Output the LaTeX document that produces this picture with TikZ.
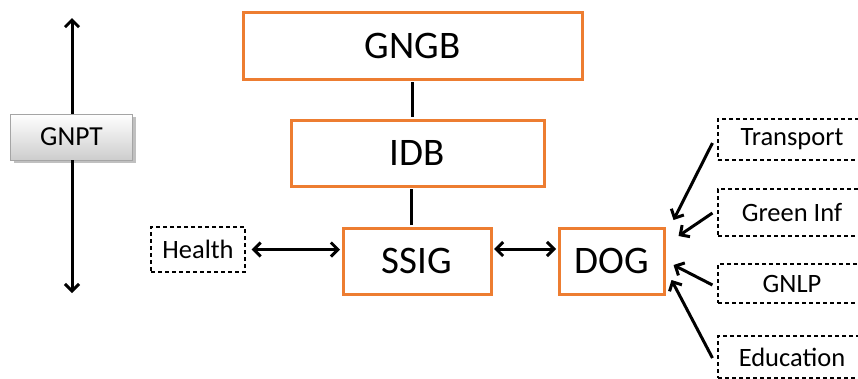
\documentclass[tikz,border=0pt]{standalone}
\usepackage{fontspec}
\setmainfont{Carlito}
\usetikzlibrary{arrows.meta,shadows,calc}
\definecolor{boxorange}{RGB}{237,125,49}
\definecolor{tabedge}{RGB}{165,165,165}
\definecolor{tablow}{RGB}{205,205,205}
\tikzset{
  bigbox/.style={draw=boxorange, line width=3pt, fill=white, font=\fontsize{39}{42}\selectfont, inner sep=0pt},
  tagbox/.style={draw=black, line width=1.1pt, dash pattern=on 4pt off 3pt, fill=white, font=\fontsize{26.5}{29}\selectfont, inner sep=0pt},
  tabbox/.style={draw=tabedge, line width=0.8pt, top color=white, bottom color=tablow,
    drop shadow={shadow xshift=3pt, shadow yshift=-3pt, fill=black!35, opacity=0.7},
    font=\fontsize{27.5}{30}\selectfont, inner sep=0pt},
  link/.style={line width=3pt, black},
  flow/.style={line width=3pt, black, -{Straight Barb[length=7pt,width=14pt]}},
  twoway/.style={line width=3pt, black, {Straight Barb[length=7pt,width=14pt]}-{Straight Barb[length=7pt,width=14pt]}}
}
\begin{document}
\begin{tikzpicture}[x=1pt, y=-1pt]
  \clip (0,0) rectangle (858,378);
  \fill[white] (0,0) rectangle (858,378);

  % vertical axis through GNPT
  \coordinate (up) at (72,18);
  \coordinate (down) at (72,293);
  \node[tabbox, minimum width=122pt, minimum height=46pt] (gnpt) at (71.5,137) {GNPT};
  \draw[flow] (gnpt.north -| up) -- (up);
  \draw[flow] (gnpt.south -| down) -- (down);

  % governance hierarchy
  \node[bigbox, minimum width=339pt, minimum height=67pt] (gngb) at (412.5,45.5) {GNGB};
  \node[bigbox, minimum width=253pt, minimum height=66pt] (idb) at (417.5,153) {IDB};
  \node[bigbox, minimum width=148pt, minimum height=66pt] (ssig) at (417,261) {SSIG};
  \node[bigbox, minimum width=105pt, minimum height=66pt] (dog) at (611.5,261) {DOG};

  \draw[link] ([yshift=-1.5pt]gngb.south) -- ([yshift=1.5pt]gngb.south |- idb.north);
  \draw[link] ([xshift=-6pt, yshift=1.5pt]ssig.north) -- ([xshift=-6pt, yshift=-1.5pt]ssig.north |- idb.south);

  % linked topics
  \node[tagbox, minimum width=94pt, minimum height=45pt] (health) at (198,249.5) {Health};
  \node[tagbox, minimum width=148pt, minimum height=41pt] (transport) at (792,139.5) {Transport};
  \node[tagbox, minimum width=148pt, minimum height=47pt] (green) at (792,212.5) {Green Inf};
  \node[tagbox, minimum width=148pt, minimum height=39pt] (gnlp) at (792,283.5) {GNLP};
  \node[tagbox, minimum width=148pt, minimum height=42pt] (edu) at (792,357) {Education};

  \draw[twoway] ([xshift=6pt]health.east) -- ([xshift=-1.5pt]ssig.west |- health.east);
  \draw[twoway] ([xshift=1.5pt, yshift=12pt]ssig.east) -- ([xshift=-1.5pt, yshift=12pt]dog.west);

  \draw[flow] ([xshift=-5pt, yshift=-3.5pt]transport.west) -- ([xshift=8pt, yshift=41pt]dog.east);
  \draw[flow] ([xshift=-5pt, yshift=-0.5pt]green.west) -- ([xshift=13pt, yshift=25pt]dog.east);
  \draw[flow] ([xshift=-5pt, yshift=-1.5pt]gnlp.west) -- ([xshift=8pt, yshift=-4pt]dog.east);
  \draw[flow] ([xshift=-5pt, yshift=-1pt]edu.west) -- ([xshift=6pt, yshift=-19pt]dog.east);
\end{tikzpicture}
\end{document}
